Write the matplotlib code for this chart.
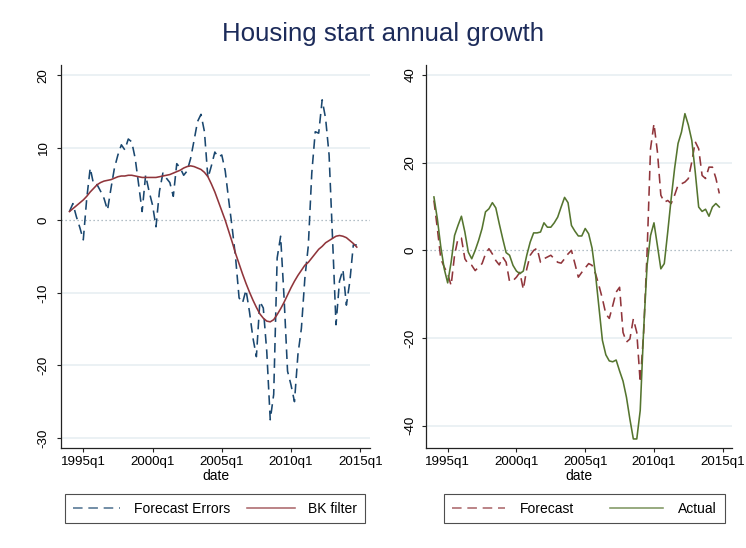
import numpy as np
import matplotlib
matplotlib.use("Agg")
import matplotlib.pyplot as plt
from matplotlib.lines import Line2D

plt.rcParams['font.family'] = ['Liberation Sans', 'DejaVu Sans']

# ---------------- data (quarterly, 1994q1 .. 2014q4) ----------------
title = "Housing start annual growth"
start_offset = -4          # 1994q1 relative to 1995q1
tick_pos = [0, 20, 40, 60, 80]
tick_labels = ["1995q1", "2000q1", "2005q1", "2010q1", "2015q1"]
xlabel = "date"

forecast_errors = [
    1.2, 2.3, 0.5, -1.0, -2.7, 3.0, 7.2, 4.9, 4.9, 4.0,
    3.0, 1.4, 4.4, 7.2, 9.0, 10.4, 9.7, 11.2, 10.8, 8.5,
    4.9, 1.2, 6.2, 4.0, 2.1, -0.9, 4.0, 6.5, 5.8, 5.2,
    3.3, 7.8, 7.2, 6.2, 6.8, 8.5, 11.0, 13.6, 14.6, 12.2,
    5.8, 7.5, 9.4,
    8.7, 9.0, 6.8, 2.8, -1.0, -5.2, -10.7, -11.4, -9.6, -12.6,
    -16.2, -18.8, -11.2, -12.1, -18.1, -27.5, -24.0, -5.2, -2.2, -10.7,
    -20.8, -22.7, -25.0, -18.5, -14.9, -8.0, -3.5, 6.5, 12.2, 12.0,
    16.6, 14.0, 9.0, -2.5, -14.4, -8.4, -6.8, -11.7, -8.4, -3.4,
    -3.4,
]
bk_filter = [
    1.2, 1.6, 2.0, 2.4, 2.8, 3.3, 3.9, 4.4, 4.9, 5.2,
    5.4, 5.5, 5.6, 5.8, 6.0, 6.1, 6.1, 6.2, 6.2, 6.1,
    6.0, 5.9, 5.9, 5.9, 5.9, 5.9, 6.0, 6.1, 6.2, 6.3,
    6.5, 6.7, 6.9, 7.2, 7.4, 7.5, 7.4, 7.2, 7.0, 6.6,
    6.0, 5.0, 3.9,
    2.6, 1.3, 0.0, -1.5, -3.0, -4.6, -6.0, -7.4, -8.7, -9.9,
    -11.0, -12.0, -12.9, -13.5, -13.9, -14.0, -13.7, -13.0, -12.2, -11.3,
    -10.3, -9.3, -8.4, -7.6, -6.9, -6.2, -5.8, -5.2, -4.6, -4.0,
    -3.6, -3.1, -2.8, -2.5, -2.2, -2.1, -2.2, -2.4, -2.8, -3.2,
    -3.7,
]
forecast = [
    11.4, 5.0, -1.9, -3.8, -5.3, -8.0, -1.1, 2.7, 2.8, -1.9,
    -3.1, -3.4, -4.6, -3.8, -3.0, -0.8, 0.4, -0.8, -2.3, -3.3,
    -1.5, -2.7, -7.1, -6.9, -6.1, -5.0, -8.9, -4.2, -1.1, 0.0,
    0.5, -2.7, -1.9, -1.5, -1.1, -1.9, -2.7, -2.9, -1.9, -0.8,
    0.0, -3.0, -6.1,
    -5.0, -4.0, -3.0, -3.4, -5.3, -8.0, -11.0, -14.5, -15.5, -12.6,
    -9.5, -8.4, -18.7, -20.9, -20.2, -15.6, -18.7, -30.1, -18.7, -0.4,
    23.2, 28.9, 22.5, 12.6, 11.0, 11.4, 10.7, 12.6, 14.9, 15.2,
    15.6, 16.4, 20.2, 24.8, 23.2, 17.1, 16.4, 19.0, 19.0, 16.5,
    13.0,
]
actual = [
    12.2, 7.2, 0.8, -4.2, -7.4, -2.7, 3.4, 5.7, 7.8, 4.2,
    -0.4, -1.9, 0.0, 2.3, 5.0, 8.8, 9.5, 10.9, 9.7, 6.1,
    2.7, -0.5, -1.1, -3.4, -4.7, -5.3, -4.7, -1.1, 1.9, 4.0,
    4.0, 4.2, 6.3, 5.3, 5.3, 6.3, 7.6, 9.9, 12.1, 10.9,
    5.7, 4.4, 3.3,
    3.3, 5.0, 3.8, 0.5, -5.5, -13.0, -20.5, -23.8, -25.2, -25.4,
    -25.0, -27.5, -29.8, -33.5, -38.5, -43.0, -43.0, -36.5, -18.0, -3.4,
    3.4, 6.3, 1.1, -4.2, -3.0, 4.2, 11.8, 18.7, 24.4, 27.0,
    31.2, 28.6, 25.1, 17.9, 9.9, 8.9, 9.4, 7.8, 9.9, 10.7,
    9.9,
]
left_yticks = [-30, -20, -10, 0, 10, 20]
right_yticks = [-40, -20, 0, 20, 40]

x = np.arange(len(forecast_errors)) + start_offset

# ---------------- styling ----------------
navy = '#1a476f'
maroon = '#90353b'
green = '#55752f'
grid_c = '#e6eef1'
zero_c = '#9aabb5'
title_c = '#1c2b5a'

fig = plt.figure(figsize=(7.46, 5.48), dpi=100)
fig.patch.set_facecolor('white')

axL = fig.add_axes([0.0824, 0.1830, 0.4135, 0.6984])
axR = fig.add_axes([0.5706, 0.1830, 0.4102, 0.6984])


def style(ax, yticks, ylim, xlim, ypad):
    ax.set_xlim(*xlim)
    ax.set_ylim(*ylim)
    for s in ['top', 'right']:
        ax.spines[s].set_visible(False)
    for s in ['left', 'bottom']:
        ax.spines[s].set_color('#222222')
        ax.spines[s].set_linewidth(0.9)
    ax.set_yticks(yticks)
    ax.set_yticklabels([str(v) for v in yticks], rotation=90, va='center')
    ax.set_xticks(tick_pos)
    ax.set_xticklabels(tick_labels)
    ax.tick_params(axis='both', length=3, width=0.8, color='#222222',
                   labelsize=9.6, labelcolor='black')
    ax.tick_params(axis='y', pad=ypad)
    ax.tick_params(axis='x', pad=3)
    for v in yticks:
        if v != 0:
            ax.axhline(v, color=grid_c, lw=1.1, zorder=0)
    ax.axhline(0, color=zero_c, lw=0.9, ls=(0, (1, 2.2)), zorder=1)
    ax.set_xlabel(xlabel, fontsize=10, labelpad=1)


style(axL, left_yticks, (-31.35, 21.4), (-6.3, 82.8), 5.5)
style(axR, right_yticks, (-45.0, 42.3), (-6.4, 82.6), 3.5)

dash = (6.0, 3.6)
axL.plot(x, forecast_errors, color=navy, lw=1.15, dashes=dash, zorder=3)
axL.plot(x, bk_filter, color=maroon, lw=1.15, zorder=4)

axR.plot(x, forecast, color=maroon, lw=1.15, dashes=dash, zorder=3)
axR.plot(x, actual, color=green, lw=1.15, zorder=4)

fig.text(0.514, 0.938, title, ha='center', va='center', fontsize=18.6,
         color=title_c)

base_kw = dict(loc='upper center', ncol=2, frameon=True, fancybox=False,
               fontsize=10, borderpad=0.55, borderaxespad=0)

hL = [Line2D([], [], color=navy, lw=1.15, dashes=dash, alpha=0.75),
      Line2D([], [], color=maroon, lw=1.15, alpha=0.75)]
legL = axL.legend(hL, ['Forecast Errors', 'BK filter'],
                  bbox_to_anchor=(0.2882, 0.0985),
                  bbox_transform=fig.transFigure,
                  handlelength=3.4, handletextpad=1.0, columnspacing=1.25,
                  **base_kw)
hR = [Line2D([], [], color=maroon, lw=1.15, dashes=dash, alpha=0.75),
      Line2D([], [], color=green, lw=1.15, alpha=0.75)]
legR = axR.legend(hR, ['Forecast', 'Actual'],
                  bbox_to_anchor=(0.7835, 0.0985),
                  bbox_transform=fig.transFigure,
                  handlelength=3.8, handletextpad=1.1, columnspacing=2.6,
                  **base_kw)
for lg in (legL, legR):
    fr = lg.get_frame()
    fr.set_edgecolor('#222222')
    fr.set_linewidth(0.8)
    fr.set_facecolor('white')

fig.savefig('out.png', dpi=100, facecolor='white')
